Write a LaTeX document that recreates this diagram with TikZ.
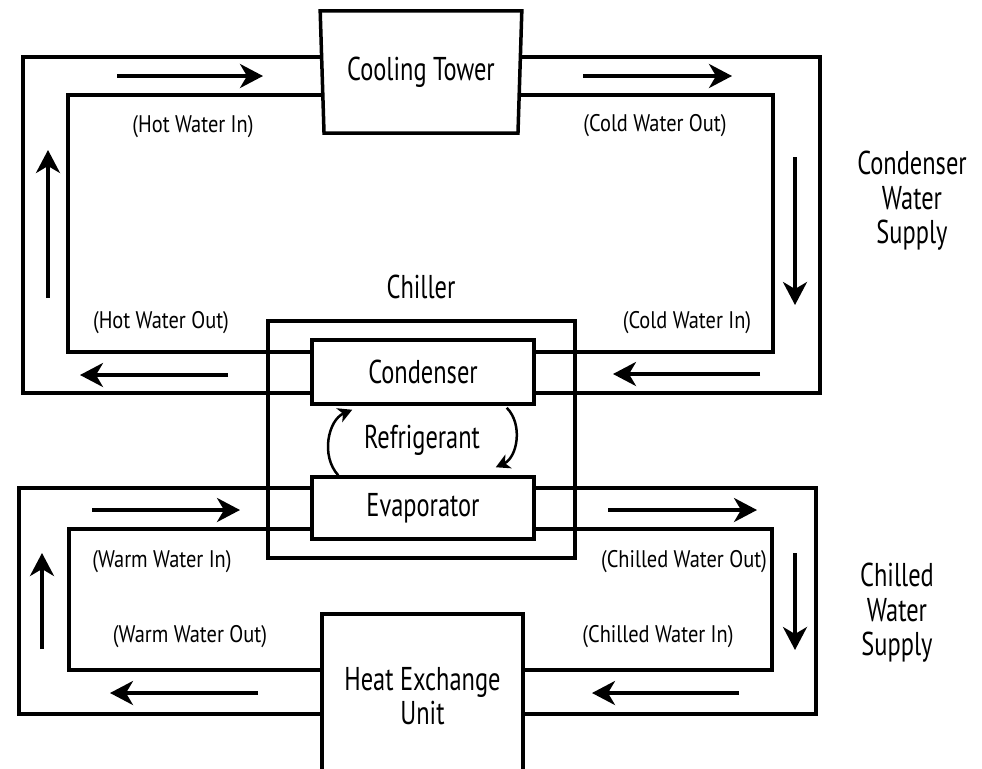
\documentclass[tikz,border=0pt]{standalone}
\usepackage{fontspec}
\setmainfont{PT Sans}[FakeStretch=0.85]
\newfontfamily\bigfont{PT Sans}[FakeStretch=0.74]
\usetikzlibrary{shapes.geometric, arrows.meta, positioning, backgrounds}

\begin{document}
\begin{tikzpicture}[
    x=1pt, y=-1pt,
    box/.style = {rectangle, draw, fill=white, line width=3.5pt, inner sep=0pt, align=center, font=\bigfont\fontsize{33}{34}\selectfont},
    tower/.style = {trapezium, shape border rotate=180, trapezium angle=85.3, trapezium stretches=true, draw, fill=white, line width=3.5pt, minimum width=202pt, minimum height=122pt, font=\bigfont\fontsize{33}{34}\selectfont},
    pipe/.style = {line width=3.5pt},
    flow/.style = {line width=3.5pt, -{Stealth[length=23pt, width=24pt, inset=7pt]}},
    refr/.style = {line width=2.5pt, -{Stealth[length=14pt, width=15pt, inset=4pt]}},
    tag/.style = {font=\fontsize{24}{26}\selectfont},
    title/.style = {align=center, font=\bigfont\fontsize{33}{34.5}\selectfont}]

    \useasboundingbox (0,0) rectangle (982,768);

    \node[tower] (ct) at (421,72) {Cooling Tower};
    \node[box, fill=none, minimum width=307pt, minimum height=237pt] (ch) at (421.5,439.5) {};
    \node[title] (chl) at (421,287) {Chiller};
    \node[box, minimum width=222pt, minimum height=64pt] (cond) at (423,372) {Condenser};
    \node[box, minimum width=222pt, minimum height=62pt] (evap) at (423,508) {Evaporator};
    \node[title] (ref) at (422,440) {Refrigerant};
    \node[box, minimum width=201pt, minimum height=164pt] (heu) at (422.5,696) {Heat Exchange\\Unit};

    \node[tag] (hwi) at (193,127) {(Hot Water In)};
    \node[tag] (cwo) at (655,126) {(Cold Water Out)};
    \node[tag] (hwo) at (161,323) {(Hot Water Out)};
    \node[tag] (cwi) at (687,323) {(Cold Water In)};
    \node[tag] (wwi) at (162,562) {(Warm Water In)};
    \node[tag] (chwo) at (684,562) {(Chilled Water Out)};
    \node[tag] (wwo) at (190,637) {(Warm Water Out)};
    \node[tag] (chwi) at (658,637) {(Chilled Water In)};
    \node[title] (cws) at (912,201) {Condenser\\Water\\Supply};
    \node[title] (chws) at (897,613) {Chilled\\Water\\Supply};

    \coordinate (oTL) at (23,57);
    \coordinate (oBR) at (820,393);
    \coordinate (iTL) at (68,95);
    \coordinate (iBR) at (773,352);
    \coordinate (pTL) at (19,488);
    \coordinate (pBR) at (816,714);
    \coordinate (qTL) at (69,529);
    \coordinate (qBR) at (772,670);

    \begin{scope}[on background layer]
        \draw[pipe] (ct.center |- oTL) -| (oTL |- oBR) -- (cond.center |- oBR);
        \draw[pipe] (cond.center |- oBR) -| (oBR |- oTL) -- (ct.center |- oTL);
        \draw[pipe] (ct.center |- iTL) -| (iTL |- iBR) -- (cond.center |- iBR);
        \draw[pipe] (cond.center |- iBR) -| (iBR |- iTL) -- (ct.center |- iTL);
        \draw[pipe] (evap.center |- pTL) -| (pTL |- pBR) -- (heu.center |- pBR);
        \draw[pipe] (heu.center |- pBR) -| (pBR |- pTL) -- (evap.center |- pTL);
        \draw[pipe] (evap.center |- qTL) -| (qTL |- qBR) -- (heu.center |- qBR);
        \draw[pipe] (heu.center |- qBR) -| (qBR |- qTL) -- (evap.center |- qTL);
    \end{scope}

    % flow directions
    \draw[flow] (117,76) -- (263,76);
    \draw[flow] (583,76) -- (732,76);
    \draw[flow] (795,157) -- (795,305);
    \draw[flow] (760,374) -- (613,374);
    \draw[flow] (228,375) -- (80,375);
    \draw[flow] (48,298) -- (48,150);
    \draw[flow] (92,510) -- (240,510);
    \draw[flow] (608,510) -- (757,510);
    \draw[flow] (795,553) -- (795,650);
    \draw[flow] (739,693) -- (592,693);
    \draw[flow] (258,693) -- (110,693);
    \draw[flow] (42,649) -- (42,553);

    \draw[refr] ([xshift=28pt]evap.north west) to[bend left=55] ([xshift=42pt, yshift=-4pt]cond.south west);
    \draw[refr] ([xshift=-29pt, yshift=-2pt]cond.south east) to[bend left=55] ([xshift=-40pt, yshift=8pt]evap.north east);
\end{tikzpicture}
\end{document}
